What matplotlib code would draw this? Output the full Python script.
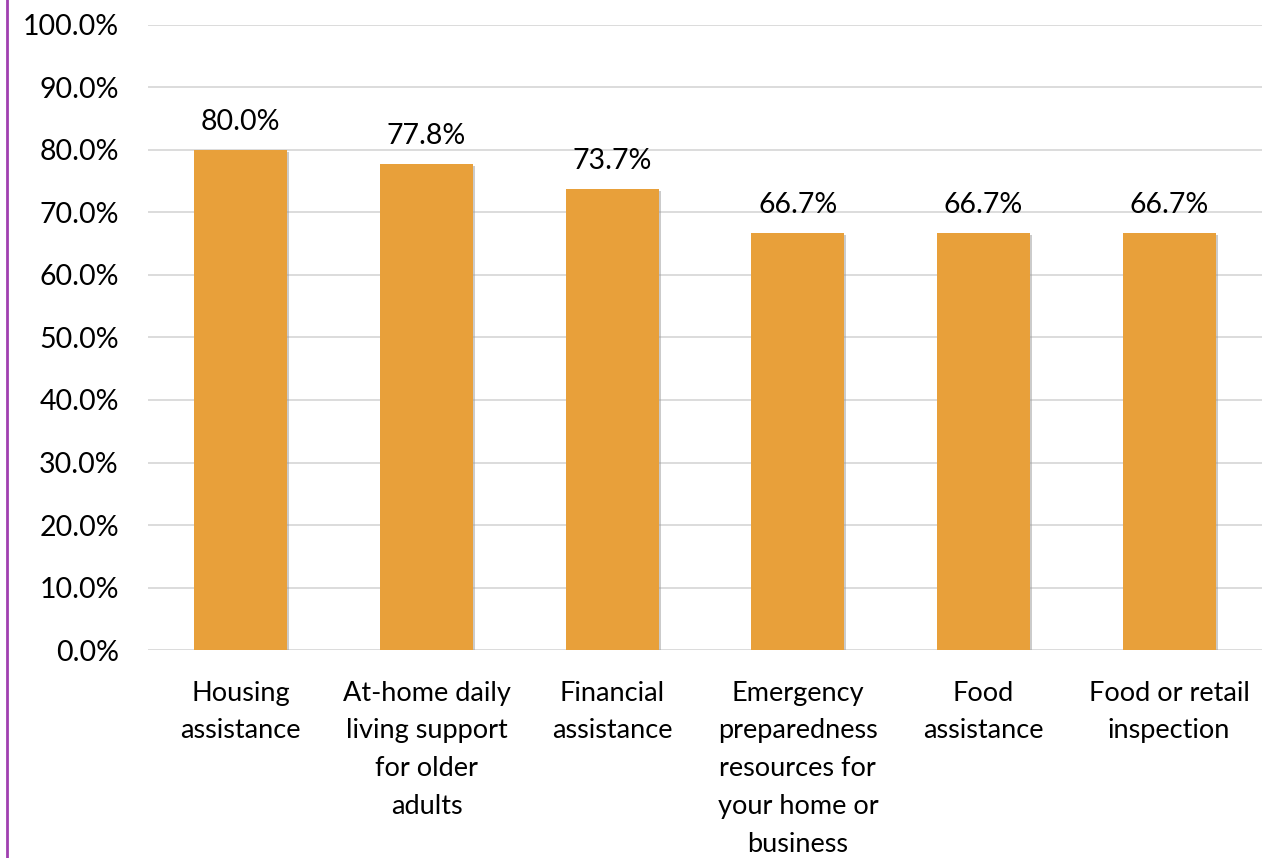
import matplotlib
matplotlib.use("Agg")
import matplotlib.pyplot as plt
import matplotlib.patheffects as pe
from matplotlib.lines import Line2D

categories = ["Housing\nassistance", "At-home daily\nliving support\nfor older\nadults",
              "Financial\nassistance", "Emergency\npreparedness\nresources for\nyour home or\nbusiness",
              "Food\nassistance", "Food or retail\ninspection"]
values = [80.0, 77.8, 73.7, 66.7, 66.7, 66.7]
yticks = [0, 10, 20, 30, 40, 50, 60, 70, 80, 90, 100]

plt.rcParams['font.family'] = ['Lato', 'DejaVu Sans']
fig = plt.figure(figsize=(12.76, 8.58), dpi=100)
ax = fig.add_axes([0.116, 0.2424, 0.873, 0.7285])

x = range(len(values))
bars = ax.bar(x, values, width=0.5, color="#E8A03A", zorder=3)
for b in bars:
    b.set_path_effects([pe.SimplePatchShadow(offset=(1.5, -1.5), shadow_rgbFace="#999999", alpha=0.5), pe.Normal()])
for xi, v in zip(x, values):
    ax.text(xi, v + 2.4, f"{v:.1f}%", ha="center", va="bottom", fontsize=20.5, color="#000000")

ax.set_xlim(-0.5, len(values) - 0.5)
ax.set_ylim(0, 100)
ax.set_yticks(yticks)
ax.set_yticklabels([f"{t:.1f}%" for t in yticks], fontsize=20.5)
ax.set_xticks(list(x))
ax.set_xticklabels(categories, fontsize=19.5, linespacing=1.64, va="top")
ax.tick_params(axis="both", length=0)
ax.tick_params(axis="x", pad=22)
ax.tick_params(axis="y", pad=21)
ax.yaxis.grid(True, color="#D9D9D9", linewidth=1.3, zorder=0)
ax.set_axisbelow(True)
for s in ax.spines.values():
    s.set_visible(False)

fig.add_artist(Line2D([0.0055, 0.0055], [0, 1], transform=fig.transFigure, color="#A040B0", linewidth=2))

fig.savefig("out.png", dpi=100)
